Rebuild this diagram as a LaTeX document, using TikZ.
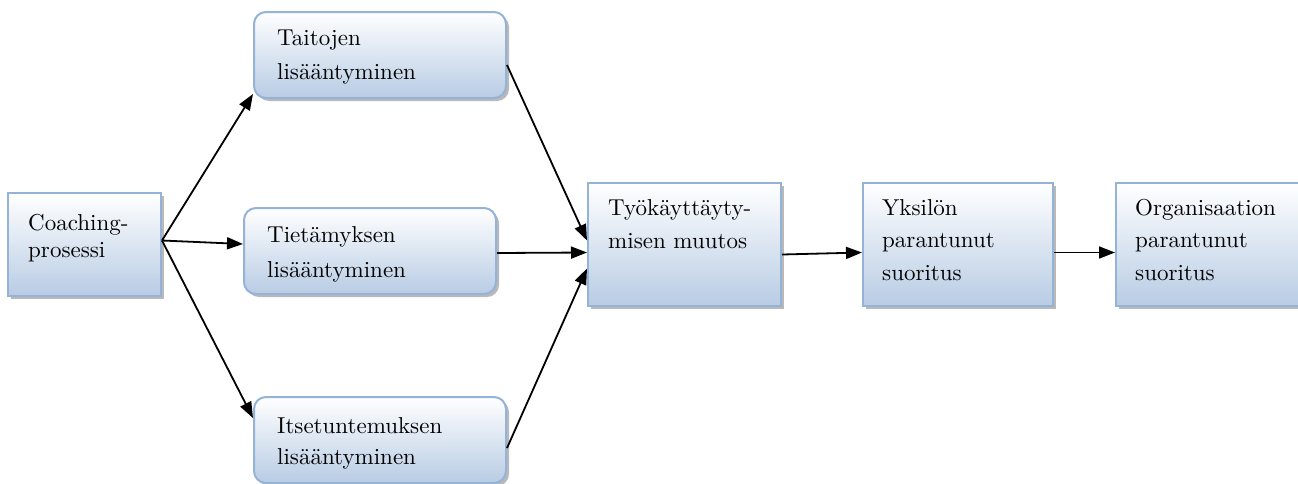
\documentclass[tikz,border=0pt]{standalone}
\usepackage{fontspec}
\setmainfont{lmroman10-regular}[Extension=.otf]
\usetikzlibrary{shadows,arrows.meta}
\definecolor{boxline}{HTML}{95B3D7}
\definecolor{boxbot}{HTML}{B8CCE4}
\tikzset{
  box/.style={draw=boxline, line width=2pt, top color=white, bottom color=boxbot,
    anchor=north west, inner sep=0pt,
    drop shadow={shadow xshift=3pt, shadow yshift=-3pt, fill=gray!55, opacity=1}},
  rbox/.style={box, rounded corners=12pt},
  txt/.style={anchor=base west, inner sep=0pt, align=left, font=\fontsize{23}{33}\selectfont},
  arr/.style={line width=1.8pt, -{Triangle[length=16pt,width=12pt]}}
}
\begin{document}
\begin{tikzpicture}[x=1pt,y=-1pt]
\useasboundingbox (0,0) rectangle (1298,483);
% boxes
\node[box, minimum width=153pt, minimum height=103pt] (coach) at (7,192) {};
\node[rbox, minimum width=252pt, minimum height=86pt] (tait) at (253,11) {};
\node[rbox, minimum width=252pt, minimum height=86pt] (tiet) at (243,207) {};
\node[rbox, minimum width=252pt, minimum height=86pt] (itse) at (253,396) {};
\node[box, minimum width=193pt, minimum height=123pt] (tyo) at (587,182) {};
\node[box, minimum width=190pt, minimum height=123pt] (yks) at (862,182) {};
\node[box, minimum width=210pt, minimum height=123pt] (org) at (1115,182) {};
% texts (anchored at the baseline of the last line)
\node[txt, font=\fontsize{23}{27}\selectfont] (coachT) at (28,257) {Coaching-\\prosessi};
\node[txt, font=\fontsize{23}{34}\selectfont] (taitT) at (277,79) {Taitojen\\lisääntyminen};
\node[txt, font=\fontsize{23}{35}\selectfont] (tietT) at (267,277) {Tietämyksen\\lisääntyminen};
\node[txt, font=\fontsize{23}{31}\selectfont] (itseT) at (277,464) {Itsetuntemuksen\\lisääntyminen};
\node[txt] (tyoT) at (608,248) {Työkäyttäyty-\\misen muutos};
\node[txt, font=\fontsize{23}{32.5}\selectfont] (yksT) at (882,280) {Yksilön\\parantunut\\suoritus};
\node[txt, font=\fontsize{23}{32.5}\selectfont] (orgT) at (1135,280) {Organisaation\\parantunut\\suoritus};
% connectors
\draw[arr] ([yshift=4pt]coach.east) -- ([yshift=5pt]tait.south west);
\draw[arr] ([yshift=4pt]coach.east) -- ([yshift=7pt]tiet.west);
\draw[arr] ([yshift=4pt]coach.east) -- ([yshift=-22pt]itse.north west);
\draw[arr] ([yshift=-10pt]tait.east) -- ([yshift=4pt]tyo.west);
\draw[arr] ([yshift=-2pt]tiet.east) -- ([yshift=-8pt]tyo.west);
\draw[arr] ([yshift=-8pt]itse.east) -- ([yshift=-24pt]tyo.west);
\draw[arr] ([yshift=-10pt]tyo.east) -- ([yshift=-8pt]yks.west);
\draw[arr] ([yshift=-8pt]yks.east) -- ([yshift=-8pt]org.west);
\end{tikzpicture}
\end{document}
